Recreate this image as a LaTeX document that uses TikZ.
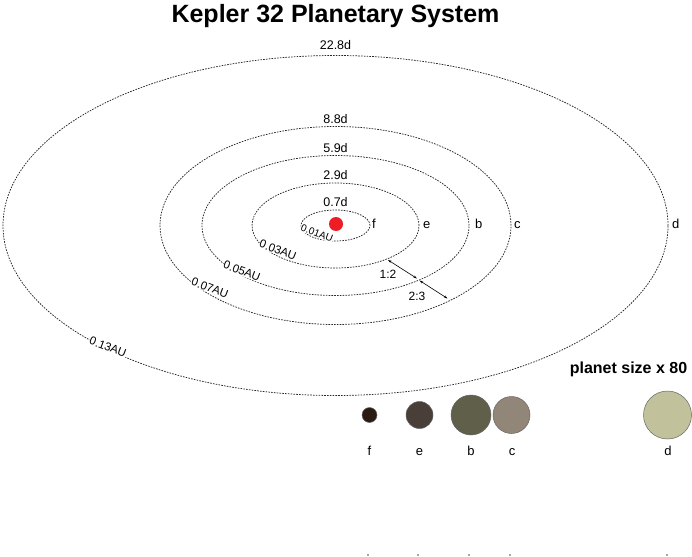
\documentclass[tikz,border=0pt]{standalone}
\usepackage{fontspec}
\setmainfont{Liberation Sans}
\usetikzlibrary{arrows.meta}
\definecolor{starred}{HTML}{EE1C24}
\definecolor{pf}{HTML}{2B1B12}
\definecolor{pe}{HTML}{4A3E39}
\definecolor{pb}{HTML}{5F5F4A}
\definecolor{pc}{HTML}{928678}
\definecolor{pd}{HTML}{C1C19C}
\begin{document}
\begin{tikzpicture}[x=1pt,y=-1pt,
  orbitline/.style={draw=black!85, line width=0.75pt, dash pattern=on 1.6pt off 1.2pt},
  periodlbl/.style={font=\fontsize{12.5}{14}\selectfont, anchor=base, inner sep=0pt},
  namelbl/.style={font=\fontsize{13}{15}\selectfont, anchor=base west, inner sep=0pt},
  aulbl/.style={font=\fontsize{11.5}{14}\selectfont, fill=white, inner sep=0.6pt, rotate=-21},
  planetdisc/.style={circle, draw=black!60, line width=0.5pt, inner sep=0pt},
  undername/.style={font=\fontsize{13}{15}\selectfont, anchor=base, inner sep=0pt},
  ratioarrow/.style={{Stealth[length=3.6pt,width=2.4pt]}-{Stealth[length=3.6pt,width=2.4pt]}, line width=0.6pt},
  ratiolbl/.style={font=\fontsize{12}{14}\selectfont, inner sep=0pt},
  tickmark/.style={fill=black!35}
]
\useasboundingbox (0,0) rectangle (692,556);

% title
\node[font=\fontsize{25}{30}\selectfont\bfseries, anchor=base, inner sep=0pt] (title) at (335.5,23) {Kepler 32 Planetary System};

% orbits
\coordinate (ctr) at (335.5,225.5);
\draw[orbitline] (ctr) ellipse [x radius=34.5pt, y radius=15.5pt];
\draw[orbitline] (ctr) ellipse [x radius=83.5pt, y radius=42.5pt];
\draw[orbitline] (ctr) ellipse [x radius=133.5pt, y radius=70pt];
\draw[orbitline] (ctr) ellipse [x radius=175.5pt, y radius=99pt];
\draw[orbitline] (ctr) ellipse [x radius=332.5pt, y radius=170pt];

% star
\node[circle, fill=starred, minimum size=14pt, inner sep=0pt] (star) at (336,224) {};

% periods
\node[periodlbl] (p1) at (335.5,206) {0.7d};
\node[periodlbl] (p2) at (335.5,179) {2.9d};
\node[periodlbl] (p3) at (335.5,153) {5.9d};
\node[periodlbl] (p4) at (335.5,124) {8.8d};
\node[periodlbl] (p5) at (335.5,50) {22.8d};

% planet names on orbits
\node[namelbl] (nf) at (372,228) {f};
\node[namelbl] (ne) at (423,228) {e};
\node[namelbl] (nb) at (475,228) {b};
\node[namelbl] (nc) at (514,228) {c};
\node[namelbl] (nd) at (672,228) {d};

% AU labels
\node[aulbl, font=\fontsize{10}{12}\selectfont] (au1) at (317,233) {0.01AU};
\node[aulbl] (au2) at (278,250) {0.03AU};
\node[aulbl] (au3) at (242,271) {0.05AU};
\node[aulbl] (au4) at (210,288) {0.07AU};
\node[aulbl] (au5) at (108,347) {0.13AU};

% resonance arrows
\coordinate (r1a) at (388,260);
\coordinate (r1b) at (417,278.5);
\coordinate (r2a) at (419.5,280.5);
\coordinate (r2b) at (447.5,298.5);
\draw[ratioarrow] (r1a) -- (r1b);
\draw[ratioarrow] (r2a) -- (r2b);
\node[ratiolbl] (q1) at (388,274.5) {1:2};
\node[ratiolbl] (q2) at (417,296) {2:3};

% planet size legend
\node[font=\fontsize{16}{19}\selectfont\bfseries, anchor=base, inner sep=0pt] (legend) at (628.5,373) {planet size x 80};
\node[planetdisc, fill=pf, minimum size=15pt] (sf) at (369.5,415) {};
\node[planetdisc, fill=pe, minimum size=27pt] (se) at (419.5,415) {};
\node[planetdisc, fill=pb, minimum size=40pt] (sb) at (471,415) {};
\node[planetdisc, fill=pc, minimum size=37pt] (sc) at (511.5,415) {};
\node[planetdisc, fill=pd, minimum size=48pt] (sd) at (667.5,415) {};
\node[undername] (uf) at (369.5,455) {f};
\node[undername] (ue) at (419.5,455) {e};
\node[undername] (ub) at (471,455) {b};
\node[undername] (uc) at (512,455) {c};
\node[undername] (ud) at (668,455) {d};

% small marks at the bottom
\foreach \xx in {368,418,469,510,667} {
  \fill[tickmark] (\xx-0.6,553.5) rectangle (\xx+0.6,556);
}
\end{tikzpicture}
\end{document}
